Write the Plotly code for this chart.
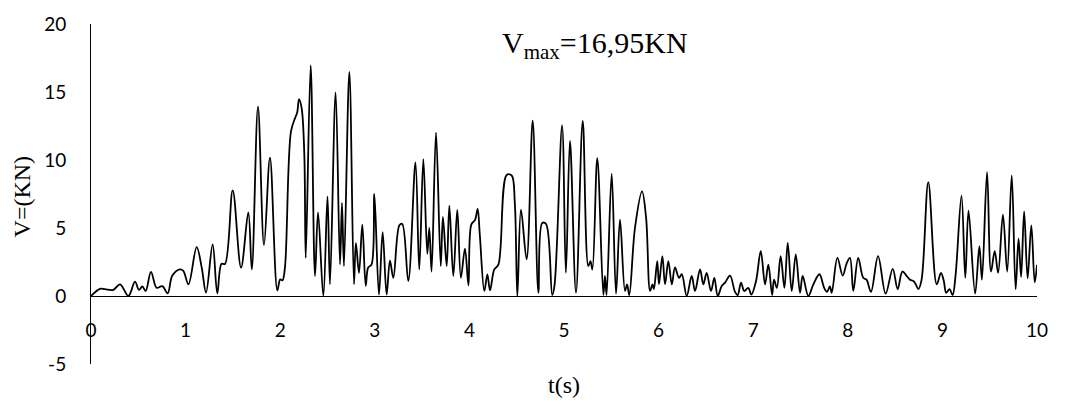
import plotly.graph_objects as go

# Time history of the shear force V (kN) against time t (s)
t = [0.00, 0.095, 0.148, 0.236, 0.307, 0.395, 0.465, 0.507, 0.543, 0.578,
     0.634, 0.694, 0.754, 0.81, 0.86, 0.94, 0.976, 1.03, 1.117, 1.17,
     1.216, 1.286, 1.335, 1.38, 1.416, 1.498, 1.586, 1.663, 1.70, 1.765,
     1.829, 1.892, 1.97, 2.0, 2.024, 2.05, 2.114, 2.156, 2.18, 2.199,
     2.227, 2.255, 2.27, 2.322, 2.368, 2.40, 2.456, 2.50, 2.526, 2.586,
     2.632, 2.653, 2.674, 2.731, 2.78, 2.80, 2.833, 2.868, 2.904, 2.93,
     2.965, 2.995, 3.044, 3.083, 3.125, 3.16, 3.196, 3.26, 3.29, 3.354,
     3.43, 3.47, 3.513, 3.555, 3.576, 3.60, 3.647, 3.697, 3.72, 3.76,
     3.788, 3.83, 3.872, 3.91, 3.953, 3.99, 4.02, 4.06, 4.087, 4.11,
     4.158, 4.19, 4.218, 4.263, 4.306, 4.394, 4.447, 4.48, 4.507, 4.545,
     4.605, 4.669, 4.729, 4.77, 4.81, 4.876, 4.90, 4.98, 5.02, 5.063,
     5.127, 5.198, 5.257, 5.28, 5.30, 5.352, 5.416, 5.433, 5.45, 5.504,
     5.55, 5.592, 5.645, 5.667, 5.69, 5.75, 5.825, 5.868, 5.91, 5.935,
     5.95, 5.986, 6.004, 6.04, 6.068, 6.103, 6.14, 6.173, 6.216, 6.245,
     6.297, 6.35, 6.385, 6.438, 6.473, 6.508, 6.554, 6.589, 6.625, 6.667,
     6.702, 6.755, 6.808, 6.836, 6.871, 6.906, 6.948, 6.98, 7.03, 7.08,
     7.125, 7.16, 7.20, 7.22, 7.25, 7.29, 7.33, 7.365, 7.407, 7.45,
     7.495, 7.523, 7.583, 7.636, 7.70, 7.75, 7.78, 7.81, 7.83, 7.89,
     7.946, 7.988, 8.023, 8.058, 8.11, 8.163, 8.198, 8.245, 8.32, 8.40,
     8.475, 8.527, 8.577, 8.623, 8.658, 8.693, 8.718, 8.746, 8.78, 8.851,
     8.94, 8.985, 9.015, 9.04, 9.076, 9.108, 9.139, 9.202, 9.242, 9.276,
     9.346, 9.391, 9.418, 9.472, 9.514, 9.553, 9.589, 9.64, 9.685, 9.733,
     9.774, 9.805, 9.832, 9.864, 9.901, 9.94, 9.976, 10.0]
v = [0.0, 0.53, 0.5, 0.45, 0.86, 0.0, 1.05, 0.45, 0.7, 0.37,
     1.78, 0.6, 0.73, 0.2, 1.5, 1.95, 1.85, 0.86, 3.6, 2.1,
     0.25, 3.8, 0.2, 2.37, 2.35, 7.77, 2.08, 6.15, 1.95, 13.92,
     3.74, 10.18, 0.41, 1.22, 1.15, 2.08, 12.1, 13.06, 13.5, 14.48,
     13.8, 10.4, 2.8, 16.95, 1.47, 6.15, 0.0, 7.33, 0.86, 14.97,
     2.32, 6.84, 2.2, 16.48, 0.86, 3.9, 1.7, 5.25, 0.75, 2.1,
     2.3, 7.5, 0.1, 4.69, 0.1, 2.6, 1.34, 5.2, 5.3, 1.1,
     9.82, 1.95, 10.06, 3.1, 5.0, 1.8, 12.01, 2.2, 5.81, 2.2,
     6.64, 1.47, 6.33, 1.34, 3.49, 0.78, 5.25, 5.6, 6.4, 4.5,
     0.37, 1.59, 0.41, 1.95, 2.3, 8.9, 8.86, 6.84, 0.0, 6.35,
     2.7, 12.89, 0.24, 5.37, 5.3, 0.07, 0.8, 12.55, 1.71, 11.4,
     0.24, 12.87, 2.2, 2.56, 1.95, 10.13, 0.07, 1.47, 0.07, 8.99,
     0.17, 5.62, 0.37, 0.86, 0.07, 5.0, 7.69, 5.74, 0.37, 0.86,
     0.5, 2.56, 0.86, 2.93, 0.86, 2.56, 0.86, 2.1, 1.34, 1.6,
     0.0, 1.47, 0.37, 1.95, 0.86, 1.7, 0.37, 1.34, 0.0, 0.73,
     0.98, 1.5, 0.3, 0.07, 0.98, 0.37, 0.6, 0.1, 1.1, 3.3,
     0.86, 2.3, 0.07, 1.2, 0.6, 2.93, 0.6, 3.9, 0.37, 3.05,
     0.24, 1.47, 0.0, 0.86, 1.6, 0.6, 0.3, 0.7, 0.24, 2.8,
     1.5, 2.4, 2.8, 0.37, 2.8, 1.34, 1.2, 0.3, 2.93, 0.17,
     2.0, 0.5, 1.8, 1.47, 1.2, 1.1, 0.86, 0.5, 1.2, 8.38,
     0.86, 1.7, 1.1, 0.24, 0.5, 0.07, 1.5, 7.38, 1.34, 6.28,
     0.17, 3.66, 1.2, 9.11, 1.8, 3.3, 1.7, 5.98, 1.8, 8.86,
     0.5, 4.22, 1.4, 6.22, 1.3, 5.2, 1.0, 2.3]

x_ticks = [0, 1, 2, 3, 4, 5, 6, 7, 8, 9, 10]
y_ticks = [-5, 0, 5, 10, 15, 20]

fig = go.Figure()
fig.add_trace(go.Scatter(
    x=t, y=v, mode="lines",
    line=dict(color="black", width=1.8, shape="spline", smoothing=1),
    hoverinfo="skip", showlegend=False,
))

tick_font = dict(family="Lato, Open Sans, sans-serif", size=19, color="black")
serif = "Liberation Serif, serif"

fig.update_layout(
    width=1084, height=406,
    margin=dict(l=91, r=47, t=22, b=42),
    paper_bgcolor="white", plot_bgcolor="white",
    xaxis=dict(
        range=[0, 10], tickvals=x_ticks, ticktext=[str(k) for k in x_ticks],
        showgrid=False, zeroline=False, showline=True,
        linecolor="black", linewidth=1, ticks="",
        anchor="free", position=0.2,  # axis drawn through V = 0
        tickfont=tick_font, ticklabelstandoff=17,
    ),
    yaxis=dict(
        range=[-5, 20], tickvals=y_ticks, ticktext=[str(k) for k in y_ticks],
        showgrid=False, zeroline=False, showline=True,
        linecolor="black", linewidth=1, ticks="",
        tickfont=tick_font, ticklabelstandoff=20,
    ),
    annotations=[
        dict(text="V<sub>max</sub>=16,95KN", xref="paper", yref="paper",
             x=0.4325, y=1.0, xanchor="left", yanchor="top", showarrow=False,
             font=dict(family=serif, size=30, color="black")),
        dict(text="V=(KN)", xref="paper", yref="paper", textangle=-90,
             x=-0.0725, y=0.494, xanchor="center", yanchor="middle", showarrow=False,
             font=dict(family=serif, size=24, color="black")),
        dict(text="t(s)", xref="paper", yref="paper",
             x=0.5, y=-0.0614, xanchor="center", yanchor="middle", showarrow=False,
             font=dict(family=serif, size=24, color="black")),
    ],
)

fig.write_html("out.html")
